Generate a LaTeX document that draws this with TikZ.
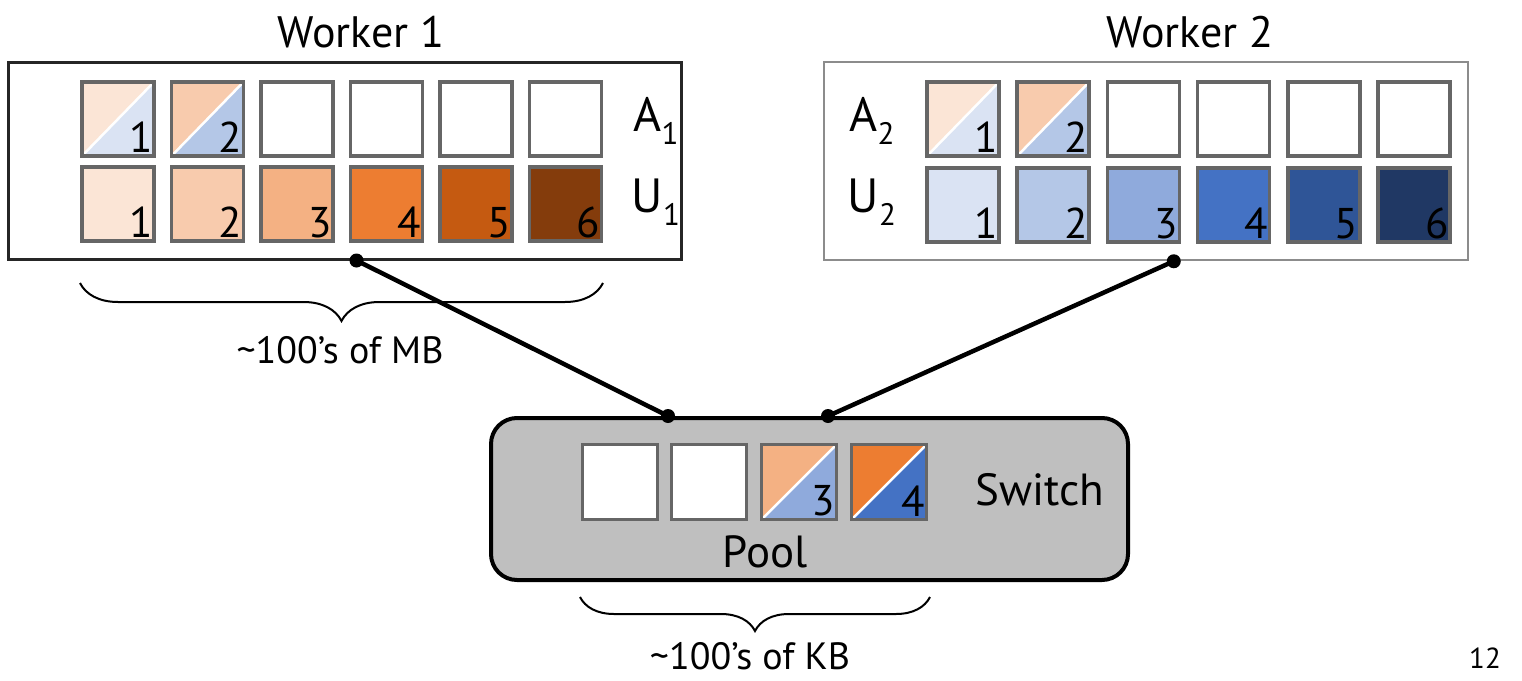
\documentclass[tikz,border=0pt]{standalone}
\usepackage{fontspec}
\setmainfont{PT Sans}
\usetikzlibrary{decorations.pathreplacing,calc}
\definecolor{oA}{HTML}{FBE5D6}
\definecolor{oB}{HTML}{F8CBAD}
\definecolor{oC}{HTML}{F4B183}
\definecolor{oD}{HTML}{ED7D31}
\definecolor{oE}{HTML}{C55A11}
\definecolor{oF}{HTML}{843C0C}
\definecolor{bA}{HTML}{DAE3F3}
\definecolor{bB}{HTML}{B4C7E7}
\definecolor{bC}{HTML}{8FAADC}
\definecolor{bD}{HTML}{4472C4}
\definecolor{bE}{HTML}{2F5597}
\definecolor{bF}{HTML}{203864}
\definecolor{cellgray}{HTML}{666666}
\definecolor{swgray}{HTML}{BFBFBF}
\newcommand{\subnum}[1]{\raisebox{-0.28em}{\fontsize{31}{31}\selectfont #1}}
\tikzset{
  cell/.style={draw=cellgray, line width=3.5pt, minimum width=72pt, minimum height=74pt, inner sep=0pt, fill=white},
  split/.style 2 args={path picture={
      \fill[#1] (path picture bounding box.north west) -- (path picture bounding box.north east) -- (path picture bounding box.south west) -- cycle;
      \fill[#2] (path picture bounding box.south east) -- (path picture bounding box.north east) -- (path picture bounding box.south west) -- cycle;
      \draw[white, line width=2.5pt] (path picture bounding box.south west) -- (path picture bounding box.north east);}},
  num/.style={font=\fontsize{43}{43}\selectfont, anchor=south east, inner sep=0pt},
  lbl/.style={font=\fontsize{48}{48}\selectfont, inner sep=0pt},
  title/.style={font=\fontsize{44}{44}\selectfont, inner sep=0pt},
  note/.style={font=\fontsize{38}{38}\selectfont, inner sep=0pt},
  conn/.style={line width=4.5pt, black},
  dot/.style={circle, fill=black, inner sep=0pt, minimum size=14pt},
  brace/.style={decorate, decoration={brace, mirror, amplitude=#1}, line width=2pt},
}
\begin{document}
\begin{tikzpicture}[x=1pt, y=-1pt]
\useasboundingbox (0,0) rectangle (1522,680);
% worker boxes
\node[draw=black!85, line width=3pt, minimum width=673pt, minimum height=197pt, inner sep=0pt] (w1) at (344.5,160.5) {};
\node[draw=black!45, line width=2.5pt, minimum width=644pt, minimum height=198pt, inner sep=0pt] (w2) at (1146,161) {};
\node[title] (t1) at (361,32) {Worker 1};
\node[title] (t2) at (1190,32) {Worker 2};
% worker 1 cells
\node[cell, split={oA}{bA}] (wa1) at (118,119) {};
\node[num] at ($(wa1.south east)+(-3,-5)$) {1};
\node[cell, split={oB}{bB}] (wa2) at (207.5,119) {};
\node[num] at ($(wa2.south east)+(-3,-5)$) {2};
\foreach \i in {3,...,6} \node[cell] (wa\i) at ({118+89.5*(\i-1)},119) {};
\foreach \i/\c in {1/oA,2/oB,3/oC,4/oD,5/oE,6/oF} {
  \node[cell, fill=\c] (wu\i) at ({118+89.5*(\i-1)},204) {};
  \node[num] at ($(wu\i.south east)+(-3,-5)$) {\i};
}
\node[lbl] (la1) at (656,121) {A\subnum{1}};
\node[lbl] (lu1) at (656,202) {U\subnum{1}};
% worker 2 cells
\node[cell, split={oA}{bA}] (xa1) at (963,119) {};
\node[num] at ($(xa1.south east)+(-3,-5)$) {1};
\node[cell, split={oB}{bB}] (xa2) at (1053.2,119) {};
\node[num] at ($(xa2.south east)+(-3,-5)$) {2};
\foreach \i in {3,...,6} \node[cell] (xa\i) at ({963+90.2*(\i-1)},119) {};
\foreach \i/\c in {1/bA,2/bB,3/bC,4/bD,5/bE,6/bF} {
  \node[cell, fill=\c] (xu\i) at ({963+90.2*(\i-1)},205) {};
  \node[num] at ($(xu\i.south east)+(-3,-5)$) {\i};
}
\node[lbl] (la2) at (872,121) {A\subnum{2}};
\node[lbl] (lu2) at (872,202) {U\subnum{2}};
% switch
\node[draw=black, fill=swgray, line width=4pt, rounded corners=26pt, minimum width=637pt, minimum height=162pt, inner sep=0pt] (sw) at (809.5,499) {};
\node[cell, minimum width=75pt, minimum height=75pt] (p1) at (620,482) {};
\node[cell, minimum width=75pt, minimum height=75pt] (p2) at (709,482) {};
\node[cell, minimum width=75pt, minimum height=75pt, split={oC}{bC}] (p3) at (799,482) {};
\node[num] at ($(p3.south east)+(-3,-5)$) {3};
\node[cell, minimum width=75pt, minimum height=75pt, split={oD}{bD}] (p4) at (889,482) {};
\node[num] at ($(p4.south east)+(-3,-5)$) {4};
\node[font=\fontsize{45}{45}\selectfont, inner sep=0pt] (swl) at (1040,490) {Switch};
\node[font=\fontsize{45}{45}\selectfont, inner sep=0pt] (pool) at (765,552) {Pool};
% connectors
\coordinate (d1) at ($(w1.south west)+(350,0)$);
\coordinate (d2) at ($(w2.south west)+(351,0)$);
\coordinate (s1) at ($(sw.north west)+(179,0)$);
\coordinate (s2) at ($(sw.north west)+(339,0)$);
\draw[conn] (d1) -- (s1);
\draw[conn] (d2) -- (s2);
\foreach \p in {d1,d2,s1,s2} \node[dot] at (\p) {};
% braces
\draw[brace=38pt] (80,283) coordinate (b1l) -- (603,283) coordinate (b1r);
\node[note] (mb) at (340,350) {\textasciitilde 100's of MB};
\draw[brace=34pt] (580,597) coordinate (b2l) -- (930,597) coordinate (b2r);
\node[note] (kb) at (750,656) {\textasciitilde 100's of KB};
\node[font=\fontsize{29}{29}\selectfont, inner sep=0pt] (pg) at (1485,658) {12};
\end{tikzpicture}
\end{document}
